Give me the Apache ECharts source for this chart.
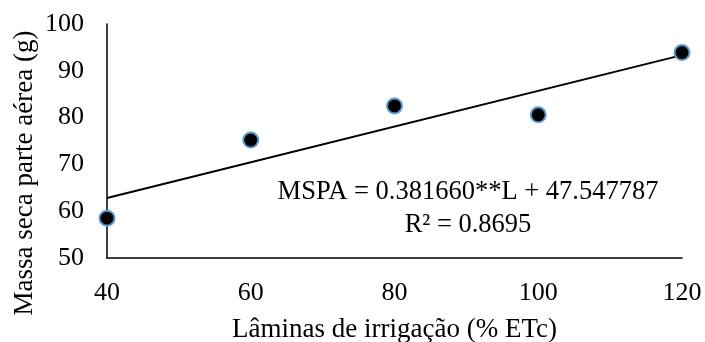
<!DOCTYPE html>
<html><head><meta charset="utf-8">
<script src="https://cdn.jsdelivr.net/npm/echarts@6/dist/echarts.min.js"></script>
<style>html,body{margin:0;padding:0;background:#fff}#c{width:705px;height:342px}</style>
</head><body><div id="c"></div>
<script>
var irrigation = [40, 60, 80, 100, 120];
var mspa = [58.5, 75.2, 82.5, 80.6, 93.9];
var slope = 0.381660, intercept = 47.547787;
var trendX = [40, 120];
var xTicks = [40, 60, 80, 100, 120];
var yTicks = [50, 60, 70, 80, 90, 100];
var eqText = 'MSPA = 0.381660**L + 47.547787';
var r2Text = 'R² = 0.8695';
var xTitle = 'Lâminas de irrigação (% ETc)';
var yTitle = 'Massa seca parte aérea (g)';

var font = 'Liberation Serif, Times New Roman, serif';
var chart = echarts.init(document.getElementById('c'), null, {renderer: 'canvas'});
var pts = irrigation.map(function (x, i) { return [x, mspa[i]]; });
var trend = trendX.map(function (x) { return [x, slope * x + intercept]; });
chart.setOption({
  animation: false,
  backgroundColor: '#fff',
  grid: {left: 107, right: 23, top: 24, bottom: 84, containLabel: false, outerBoundsMode: 'none'},
  xAxis: {
    type: 'value', min: xTicks[0], max: xTicks[xTicks.length - 1], interval: 20,
    axisLine: {lineStyle: {color: '#000', width: 1.5}},
    axisTick: {show: false}, splitLine: {show: false},
    axisLabel: {color: '#000', fontFamily: font, fontSize: 26, margin: 22},
    name: xTitle, nameLocation: 'middle', nameGap: 58,
    nameTextStyle: {color: '#000', fontFamily: font, fontSize: 27}
  },
  yAxis: {
    type: 'value', min: yTicks[0], max: yTicks[yTicks.length - 1], interval: 10,
    axisLine: {show: true, lineStyle: {color: '#000', width: 1.5}},
    axisTick: {show: false}, splitLine: {show: false},
    axisLabel: {color: '#000', fontFamily: font, fontSize: 26, margin: 23}
  },
  graphic: [
    {type: 'text', x: 25, y: 173, rotation: Math.PI / 2,
     style: {text: yTitle, fill: '#000', font: '27px ' + font, textAlign: 'center', textVerticalAlign: 'middle'}},
    {type: 'text', x: 468, y: 192,
     style: {text: eqText, fill: '#000', font: '26.5px ' + font, textAlign: 'center', textVerticalAlign: 'middle'}},
    {type: 'text', x: 468, y: 225,
     style: {text: r2Text, fill: '#000', font: '26.5px ' + font, textAlign: 'center', textVerticalAlign: 'middle'}}
  ],
  series: [
    {type: 'line', data: trend, symbol: 'none', lineStyle: {color: '#000', width: 2}, z: 2},
    {type: 'scatter', data: pts, symbol: 'circle', symbolSize: 15,
     itemStyle: {color: '#000', borderColor: '#5B9BD5', borderWidth: 2, opacity: 1}, z: 3}
  ]
});
</script></body></html>
